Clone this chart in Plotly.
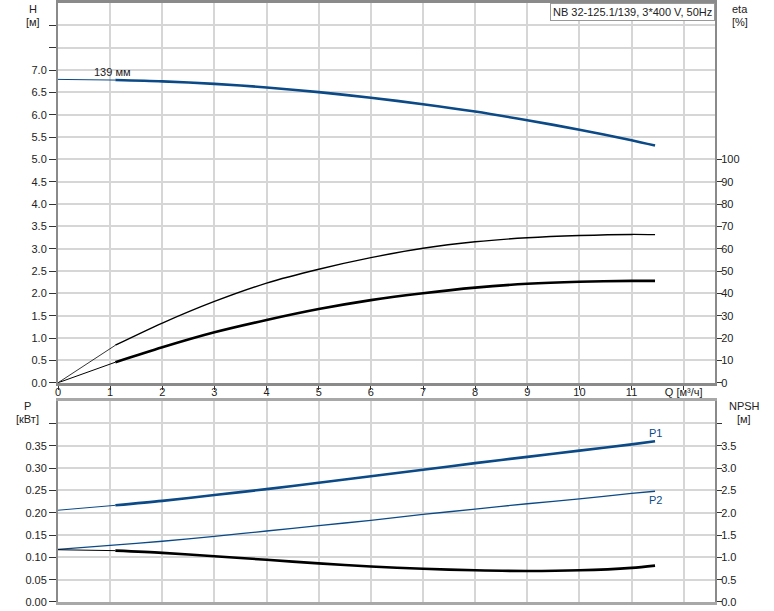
import plotly.graph_objects as go

# ---- data ----
q_full = [0, 1, 2, 3, 4, 5, 6, 7, 8, 9, 10, 11, 11.45]
q_split = [0, 1.1, 2, 3, 4, 5, 6, 7, 8, 9, 10, 11, 11.45]   # first segment (0-1.1) drawn thin

h_vals = [6.79, 6.775, 6.745, 6.69, 6.61, 6.505, 6.38, 6.235, 6.07, 5.875, 5.665, 5.43, 5.31]
eta_total = [0, 16.8, 26.7, 36.4, 44.6, 50.8, 56.0, 60.2, 63.1, 64.9, 65.9, 66.4, 66.3]
eta_pump = [0, 9.2, 15.9, 22.6, 28.1, 33.0, 37.0, 40.1, 42.6, 44.3, 45.2, 45.6, 45.6]
p1_vals = [0.2055, 0.2165, 0.2265, 0.2395, 0.2528, 0.2669, 0.2817, 0.296, 0.311, 0.325, 0.339, 0.353, 0.360]
p2_vals = [0.118, 0.127, 0.136, 0.147, 0.159, 0.171, 0.183, 0.196, 0.208, 0.220, 0.231, 0.243, 0.248]
npsh_vals = [1.17, 1.15, 1.10, 1.025, 0.945, 0.865, 0.795, 0.745, 0.71, 0.695, 0.71, 0.765, 0.815]

x_ticks = list(range(0, 13))
x_ticktext = [str(v) for v in range(0, 12)] + ["Q [м³/ч]"]
h_ticks = [i * 0.5 for i in range(0, 17)]
h_ticktext = [f"{v:.1f}" if v <= 7.0 else "" for v in h_ticks]
eta_ticks = list(range(0, 101, 10))
p_ticks = [i * 0.05 for i in range(0, 9)]
p_ticktext = [f"{v:.2f}" if v < 0.39 else "" for v in p_ticks]
npsh_ticks = [i * 0.5 for i in range(0, 9)]
npsh_ticktext = [f"{v:.1f}" if v < 3.9 else "" for v in npsh_ticks]

BLUE = "#0b4a86"
BLACK = "#000000"
GRID = "#d6d6d6"
AXIS = "#8a8a8a"
TXT = "#222222"
FONT = "Liberation Sans, Arial, sans-serif"

fig = go.Figure()


def split_trace(xs, ys, color, xa, ya, thick=2.6, thin=1.0):
    fig.add_trace(go.Scatter(x=xs[:2], y=ys[:2], mode="lines", xaxis=xa, yaxis=ya,
                             line=dict(color=color, width=thin), showlegend=False, hoverinfo="skip"))
    fig.add_trace(go.Scatter(x=xs[1:], y=ys[1:], mode="lines", xaxis=xa, yaxis=ya,
                             line=dict(color=color, width=thick, shape="spline", smoothing=0.8),
                             showlegend=False, hoverinfo="skip"))


# top plot
split_trace(q_split, h_vals, BLUE, "x", "y")
split_trace(q_split, eta_total, BLACK, "x", "y2", thick=1.4, thin=0.8)
split_trace(q_split, eta_pump, BLACK, "x", "y2")

# bottom plot
split_trace(q_split, p1_vals, BLUE, "x2", "y3")
fig.add_trace(go.Scatter(x=q_full, y=p2_vals, mode="lines", xaxis="x2", yaxis="y3",
                         line=dict(color=BLUE, width=1.3, shape="spline", smoothing=0.8),
                         showlegend=False, hoverinfo="skip"))
split_trace(q_split, npsh_vals, BLACK, "x2", "y4")

tickfont = dict(family=FONT, size=11, color=TXT)

fig.update_layout(
    width=774, height=611,
    margin=dict(l=58, r=59, t=0, b=9),
    paper_bgcolor="white", plot_bgcolor="white",
    font=dict(family=FONT, size=11, color=TXT),
    xaxis=dict(domain=[0, 1], range=[0, 12.6], anchor="y",
               tickvals=x_ticks, ticktext=x_ticktext, ticks="outside", ticklen=4,
               tickcolor="#333", tickfont=tickfont, ticklabelstandoff=-7,
               showgrid=True, gridcolor=GRID, gridwidth=2,
               showline=True, linecolor=AXIS, linewidth=3, mirror=True, zeroline=False),
    yaxis=dict(domain=[0.366, 1.0], range=[0, 8.5], anchor="x",
               tickvals=h_ticks, ticktext=h_ticktext, ticks="outside", ticklen=7,
               tickcolor="#333", tickfont=tickfont,
               showgrid=True, gridcolor=GRID, gridwidth=2,
               showline=True, linecolor=AXIS, linewidth=2, zeroline=False),
    yaxis2=dict(overlaying="y", side="right", range=[0, 170], anchor="x",
                tickvals=eta_ticks, ticks="outside", ticklen=5, tickcolor="#333",
                tickfont=tickfont, showgrid=False, ticklabelstandoff=-3,
                showline=True, linecolor=AXIS, linewidth=2, zeroline=False),
    xaxis2=dict(domain=[0, 1], range=[0, 12.6], anchor="y3", matches="x",
                tickvals=x_ticks, showticklabels=False, ticks="",
                showgrid=True, gridcolor=GRID, gridwidth=2,
                showline=True, linecolor="#a8a8a8", linewidth=3, mirror=True, zeroline=False),
    yaxis3=dict(domain=[0, 0.3355], range=[0, 0.45], anchor="x2",
                tickvals=p_ticks, ticktext=p_ticktext, ticks="outside", ticklen=7,
                tickcolor="#333", tickfont=tickfont,
                showgrid=True, gridcolor=GRID, gridwidth=2,
                showline=True, linecolor=AXIS, linewidth=2, zeroline=False),
    yaxis4=dict(overlaying="y3", side="right", range=[0, 4.5], anchor="x2",
                tickvals=npsh_ticks, ticktext=npsh_ticktext, ticks="outside", ticklen=5,
                tickcolor="#333", tickfont=tickfont, showgrid=False, ticklabelstandoff=-3,
                showline=True, linecolor=AXIS, linewidth=2, zeroline=False),
)

ann = [
    dict(text="H", x=33, y=6), dict(text="[м]", x=33, y=19),
    dict(text="eta", x=740, y=6), dict(text="[%]", x=740, y=19),
    dict(text="P", x=27, y=405), dict(text="[кВт]", x=27, y=418),
    dict(text="NPSH", x=744, y=405), dict(text="[м]", x=744, y=418),
]
for a in ann:
    fig.add_annotation(text=a["text"], xref="paper", yref="paper",
                       x=(a["x"] - 58) / (774 - 58 - 59), y=1 - a["y"] / 602,
                       showarrow=False, xanchor="center", yanchor="middle",
                       font=dict(family=FONT, size=11, color=TXT))

fig.add_annotation(text="139 мм", x=1.05, y=6.95, xref="x", yref="y", showarrow=False,
                   xanchor="center", yanchor="middle", font=dict(family=FONT, size=11, color=TXT))
fig.add_annotation(text="P1", x=q_full[-1], y=p1_vals[-1], xref="x2", yref="y3", showarrow=False,
                   xanchor="center", yanchor="bottom", yshift=0,
                   font=dict(family=FONT, size=11, color=BLUE))
fig.add_annotation(text="P2", x=q_full[-1], y=p2_vals[-1], xref="x2", yref="y3", showarrow=False,
                   xanchor="center", yanchor="top", yshift=-1,
                   font=dict(family=FONT, size=11, color=BLUE))
fig.add_annotation(text="NB 32-125.1/139, 3*400 V, 50Hz", xref="paper", yref="paper",
                   x=1.0, y=1.0, xanchor="right", yanchor="top", showarrow=False,
                   bordercolor="#999999", borderwidth=1, borderpad=2, bgcolor="white",
                   font=dict(family=FONT, size=11, color=TXT))

fig.write_html("out.html", config={"displayModeBar": False},
               post_script="document.body.style.margin='0';")
